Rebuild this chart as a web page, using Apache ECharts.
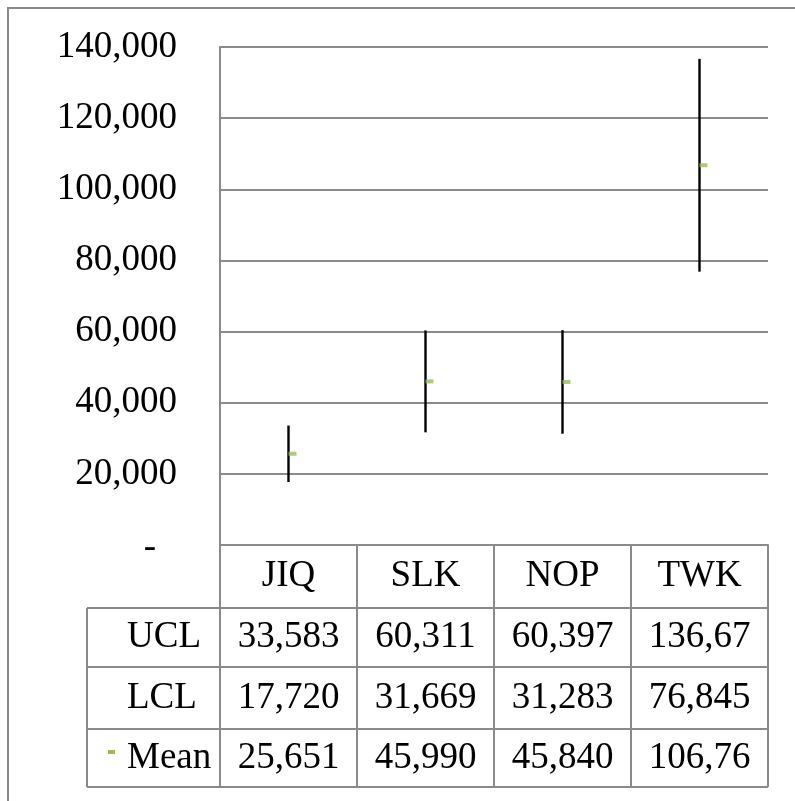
<!DOCTYPE html>
<html>
<head>
<meta charset="utf-8">
<script src="https://cdn.jsdelivr.net/npm/echarts@6/dist/echarts.min.js"></script>
<style>
html,body{margin:0;padding:0;background:#fff;}
#c{width:795px;height:801px;}
</style>
</head>
<body>
<div id="c"></div>
<script>
var categories = ['JIQ', 'SLK', 'NOP', 'TWK'];
var ucl = [33583, 60311, 60397, 136670];
var lcl = [17720, 31669, 31283, 76845];
var mean = [25651, 45990, 45840, 106760];
var rowNames = ['UCL', 'LCL', 'Mean'];
var yTicks = [0, 20000, 40000, 60000, 80000, 100000, 120000, 140000];

var FONT = '"Liberation Serif", "Times New Roman", "DejaVu Serif", serif';
var FS = 37;
var GRAY = '#8a8a8a';
var GREEN = '#9bbb59';

function fmt(v) { return v.toLocaleString('en-US'); }
// Data-table cells clip long numbers, as in the reference
function cellText(v) { return fmt(v).slice(0, 6); }

var chart = echarts.init(document.getElementById('c'), null, {renderer: 'canvas'});

var option = {
  animation: false,
  backgroundColor: '#fff',
  grid: {left: 220, right: 27, top: 47, bottom: 256, containLabel: false},
  xAxis: {
    type: 'category',
    data: categories,
    axisLine: {show: true, lineStyle: {color: GRAY, width: 2}},
    axisTick: {show: false},
    axisLabel: {margin: 0, lineHeight: 63, fontSize: FS, fontFamily: FONT, color: '#000'},
    splitLine: {show: false}
  },
  yAxis: {
    type: 'value',
    min: yTicks[0],
    max: yTicks[yTicks.length - 1],
    interval: 20000,
    axisLine: {show: true, lineStyle: {color: GRAY, width: 2}},
    axisTick: {show: false},
    splitLine: {show: true, lineStyle: {color: GRAY, width: 2}},
    axisLabel: {
      margin: 43,
      fontSize: FS,
      fontFamily: FONT,
      color: '#000',
      formatter: function (v) { return v === 0 ? '{z|-}' : fmt(v); },
      rich: {z: {fontSize: FS, fontFamily: FONT, color: '#000', padding: [6, 21, 0, 0]}}
    }
  },
  series: [
    {
      type: 'custom',
      name: 'range',
      data: categories.map(function (c, i) { return [i, lcl[i], ucl[i]]; }),
      encode: {x: 0, y: [1, 2]},
      renderItem: function (params, api) {
        var lo = api.coord([api.value(0), api.value(1)]);
        var hi = api.coord([api.value(0), api.value(2)]);
        return {
          type: 'line',
          shape: {x1: lo[0], y1: lo[1], x2: hi[0], y2: hi[1]},
          style: {stroke: '#000', lineWidth: 2.4}
        };
      },
      z: 3
    },
    {
      type: 'scatter',
      name: 'Mean',
      data: mean,
      symbol: 'rect',
      symbolSize: [8, 4],
      symbolOffset: [4, 0],
      itemStyle: {color: GREEN},
      z: 4
    }
  ]
};
chart.setOption(option);

// Data table below the plot, aligned with the category axis
var bw = chart.convertToPixel({xAxisIndex: 0}, categories[1]) - chart.convertToPixel({xAxisIndex: 0}, categories[0]);
var centers = categories.map(function (c) { return chart.convertToPixel({xAxisIndex: 0}, c); });
var x0 = centers[0] - bw / 2;
var x1 = centers[centers.length - 1] + bw / 2;
var yTop = chart.convertToPixel({yAxisIndex: 0}, 0);
var rowY = [yTop + 63, yTop + 122, yTop + 184, yTop + 242];
var labelLeft = 87;
var g = [];
function line(xa, ya, xb, yb) {
  g.push({type: 'line', shape: {x1: xa, y1: ya, x2: xb, y2: yb}, style: {stroke: GRAY, lineWidth: 2}, z: 10});
}
// outer chart frame
g.push({type: 'rect', shape: {x: 8, y: 8, width: 820, height: 820}, style: {fill: null, stroke: GRAY, lineWidth: 2}, z: 1});
rowY.forEach(function (y) { line(labelLeft, y, x1, y); });
line(labelLeft, rowY[0], labelLeft, rowY[3]);
for (var k = 0; k <= categories.length; k++) {
  var xx = x0 + k * bw;
  line(xx, yTop, xx, rowY[3]);
}
var rows = [ucl, lcl, mean];
rows.forEach(function (arr, r) {
  var cy = (rowY[r] + rowY[r + 1]) / 2;
  g.push({type: 'text', x: 127, y: cy, style: {text: rowNames[r], font: FS + 'px ' + FONT, fill: '#000', textAlign: 'left', textVerticalAlign: 'middle'}, z: 11});
  arr.forEach(function (v, i) {
    g.push({type: 'text', x: centers[i], y: cy, style: {text: cellText(v), font: FS + 'px ' + FONT, fill: '#000', textAlign: 'center', textVerticalAlign: 'middle'}, z: 11});
  });
});
// legend key for Mean
var my = (rowY[2] + rowY[3]) / 2;
g.push({type: 'rect', shape: {x: 108, y: my - 8, width: 7, height: 4}, style: {fill: GREEN}, z: 11});
chart.setOption({graphic: {elements: g}});
</script>
</body>
</html>
